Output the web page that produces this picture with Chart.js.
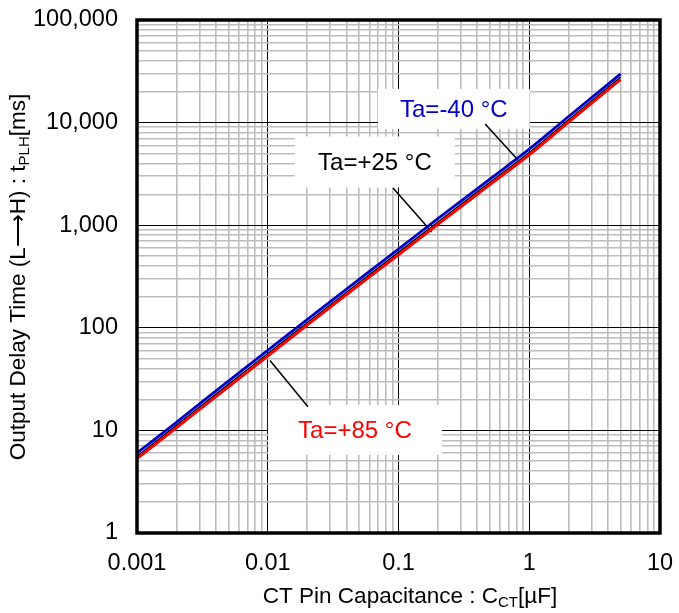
<!DOCTYPE html>
<html>
<head>
<meta charset="utf-8">
<script src="https://cdn.jsdelivr.net/npm/chart.js@4/dist/chart.umd.min.js"></script>
<style>
  html, body { margin: 0; padding: 0; background: #fff; }
  #wrap { position: relative; width: 679px; height: 613px; }
</style>
</head>
<body>
<div id="wrap"><canvas id="chart"></canvas></div>
<script>
// CT pin capacitance [uF] vs output delay time tPLH [ms]
const capacitance = [0.001, 0.002, 0.005, 0.01, 0.02, 0.05, 0.1, 0.2, 0.5, 1, 2, 5];
const delayMinus40 = [6.02, 12.0, 30.2, 60.2, 120, 297, 585, 1158, 2815, 5505, 11460, 29850];
const delayPlus25 = [5.59, 11.2, 28.1, 55.9, 112, 276, 543, 1076, 2616, 5117, 10655, 27750];
const delayPlus85 = [5.3, 10.6, 26.6, 53, 106, 262, 515, 1020, 2480, 4850, 10100, 26300];

const xMajor = [0.001, 0.01, 0.1, 1, 10];
const yMajor = [1, 10, 100, 1000, 10000, 100000];
const minorSteps = [2, 3, 4, 5, 6, 7, 8, 9];

const seriesLabels = ['Ta=-40 °C', 'Ta=+25 °C', 'Ta=+85 °C'];
const seriesColors = ['#0000c8', '#000000', '#ff0000'];

const FONT = "'Liberation Sans', Arial, sans-serif";

function gridValues(majors) {
  const out = [];
  majors.forEach((m, i) => {
    out.push(m);
    if (i < majors.length - 1) minorSteps.forEach(s => out.push(m * s));
  });
  return out;
}
const isMajor = v => Math.abs(Math.log10(v) - Math.round(Math.log10(v))) < 1e-9;

function toPoints(ys) {
  return capacitance.map((c, i) => ({ x: c, y: ys[i] }));
}

// callout boxes: centre in data units, size in px, leader line in data units
const callouts = [
  { text: seriesLabels[0], color: seriesColors[0], cx: 0.265, cy: 13600, w: 152, h: 40,
    from: [0.46, 9690], to: [0.82, 4330] },
  { text: seriesLabels[1], color: seriesColors[1], cx: 0.066, cy: 4130, w: 160, h: 51,
    from: [0.0908, 2300], to: [0.18, 860] },
  { text: seriesLabels[2], color: seriesColors[2], cx: 0.0464, cy: 10.1, w: 174, h: 50,
    from: [0.0203, 17.0], to: [0.0104, 48] }
];

function drawSubTitle(ctx, parts) {
  // parts: [text, isSub]
  let total = 0;
  parts.forEach(p => {
    ctx.font = (p[1] ? '15px ' : '22.5px ') + FONT;
    p.w = ctx.measureText(p[0]).width;
    total += p.w;
  });
  let x = -total / 2;
  parts.forEach(p => {
    ctx.font = (p[1] ? '15px ' : '22.5px ') + FONT;
    ctx.fillText(p[0], x, p[1] ? 6 : 0);
    x += p.w;
  });
}

const decor = {
  id: 'decor',
  beforeDatasetsDraw(chart) {
    const { ctx, scales: { x, y } } = chart;
    ctx.save();
    callouts.forEach(c => {
      const px = x.getPixelForValue(c.cx), py = y.getPixelForValue(c.cy);
      ctx.fillStyle = '#fff';
      ctx.fillRect(px - c.w / 2, py - c.h / 2, c.w, c.h);
      ctx.strokeStyle = '#000';
      ctx.lineWidth = 1.5;
      ctx.beginPath();
      ctx.moveTo(x.getPixelForValue(c.from[0]), y.getPixelForValue(c.from[1]));
      ctx.lineTo(x.getPixelForValue(c.to[0]), y.getPixelForValue(c.to[1]));
      ctx.stroke();
      ctx.fillStyle = c.color;
      ctx.font = '24px ' + FONT;
      ctx.textAlign = 'center';
      ctx.textBaseline = 'middle';
      ctx.fillText(c.text, px, py + 1);
    });
    ctx.restore();
  },
  afterDatasetsDraw(chart) {
    const { ctx, chartArea: a } = chart;
    ctx.save();
    ctx.strokeStyle = '#000';
    ctx.lineWidth = 3.5;
    ctx.strokeRect(a.left, a.top, a.right - a.left, a.bottom - a.top);
    ctx.restore();
  },
  afterDraw(chart) {
    const { ctx } = chart;
    ctx.save();
    ctx.fillStyle = '#000';
    ctx.textBaseline = 'middle';
    ctx.textAlign = 'left';
    ctx.translate(410, 597);
    drawSubTitle(ctx, [['CT Pin Capacitance : C', false], ['CT', true], ['[µF]', false]]);
    ctx.restore();

    ctx.save();
    ctx.fillStyle = '#000';
    ctx.textBaseline = 'middle';
    ctx.textAlign = 'left';
    ctx.translate(19, 277);
    ctx.rotate(-Math.PI / 2);
    drawSubTitle(ctx, [['Output Delay Time (L\u27F6H) : t', false], ['PLH', true], ['[ms]', false]]);
    ctx.restore();
  }
};

const gridColor = c => (c.tick && isMajor(c.tick.value) ? '#000' : '#bdbdbd');
const gridWidth = c => (c.tick && isMajor(c.tick.value) ? 1 : 1.6);
const noPad = s => { s.paddingTop = 0; s.paddingBottom = 0; s.paddingLeft = 0; s.paddingRight = 0; };

new Chart(document.getElementById('chart'), {
  type: 'line',
  data: {
    datasets: [
      { label: seriesLabels[2], data: toPoints(delayPlus85), borderColor: seriesColors[2], borderWidth: 2.8 },
      { label: seriesLabels[0], data: toPoints(delayMinus40), borderColor: seriesColors[0], borderWidth: 2.8 },
      { label: seriesLabels[1], data: toPoints(delayPlus25), borderColor: seriesColors[1], borderWidth: 1.4 }
    ]
  },
  options: {
    responsive: true,
    maintainAspectRatio: false,
    animation: false,
    elements: { point: { radius: 0 }, line: { cubicInterpolationMode: 'monotone', fill: false } },
    layout: { padding: { left: 0, top: 20, right: 19, bottom: 0 } },
    plugins: { legend: { display: false }, tooltip: { enabled: false } },
    scales: {
      x: {
        type: 'logarithmic', min: 0.001, max: 10,
        afterBuildTicks: s => { s.ticks = gridValues(xMajor).map(v => ({ value: v })); },
        afterFit: s => { s.height = 80; noPad(s); },
        ticks: {
          autoSkip: false, maxRotation: 0, padding: 16, color: '#000',
          font: { family: FONT, size: 23.5 },
          callback: v => (isMajor(v) ? String(Number(v.toPrecision(3))) : '')
        },
        grid: { color: gridColor, lineWidth: gridWidth, drawTicks: false },
        border: { display: false }
      },
      y: {
        type: 'logarithmic', min: 1, max: 100000,
        afterBuildTicks: s => { s.ticks = gridValues(yMajor).map(v => ({ value: v })); },
        afterFit: s => { s.width = 137; noPad(s); },
        ticks: {
          autoSkip: false, padding: 19, color: '#000',
          font: { family: FONT, size: 23.5 },
          callback: v => (isMajor(v) ? Math.round(v).toLocaleString('en-US') : '')
        },
        grid: { color: gridColor, lineWidth: gridWidth, drawTicks: false },
        border: { display: false }
      }
    }
  },
  plugins: [decor]
});
</script>
</body>
</html>
